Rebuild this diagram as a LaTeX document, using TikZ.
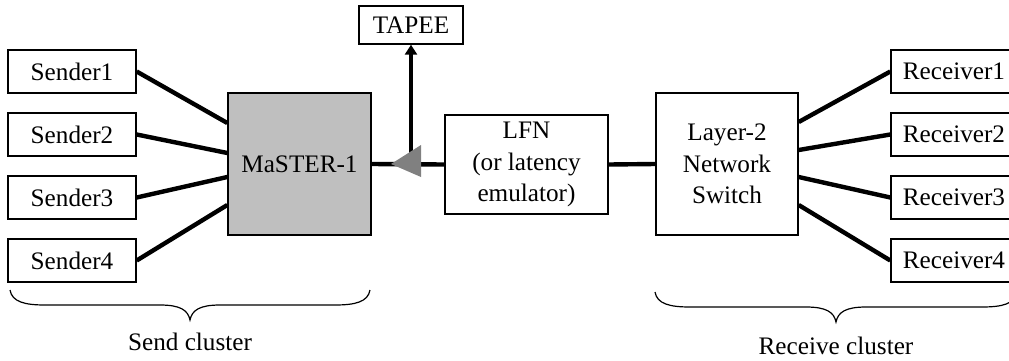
\documentclass[tikz,border=0pt]{standalone}
\usepackage{fontspec}
\setmainfont{Liberation Serif}
\usetikzlibrary{calc,arrows.meta}
\begin{document}
\begin{tikzpicture}[x=0.5pt,y=-0.5pt,
  box/.style={draw, line width=0.7pt, inner sep=0pt, font=\fontsize{12.6}{15.8}\selectfont, align=center},
  small/.style={box, minimum width=64pt, minimum height=21.5pt},
  rbox/.style={box, minimum width=63pt, minimum height=21.5pt},
  link/.style={line width=2.2pt},
  brace/.style={line width=0.6pt},
  lbl/.style={font=\fontsize{12.6}{15.8}\selectfont, inner sep=0pt}]
\useasboundingbox (0,0) rectangle (1009,360);
% senders
\node[small] (s1) at (72,71.5) {Sender1};
\node[small] (s2) at (72,134.5) {Sender2};
\node[small] (s3) at (72,197.5) {Sender3};
\node[small] (s4) at (72,260.5) {Sender4};
% master
\node[box, fill=gray!50, minimum width=71.5pt, minimum height=71pt] (m) at (299.5,164) {MaSTER-1};
% TAPEE
\node[box, minimum width=52pt, minimum height=19pt] (t) at (411,25) {TAPEE};
% LFN
\node[box, minimum width=81.5pt, minimum height=49.5pt] (lfn) at (526.5,164.5) {LFN\\(or latency\\emulator)};
% switch
\node[box, minimum width=71pt, minimum height=71pt] (sw) at (727,164) {Layer-2\\Network\\Switch};
% receivers
\node[rbox] (r1) at (954,71.5) {Receiver1};
\node[rbox] (r2) at (954,134.5) {Receiver2};
\node[rbox] (r3) at (954,197.5) {Receiver3};
\node[rbox] (r4) at (954,260.5) {Receiver4};
% sender links
\draw[link] (s1.east) -- ($(m.west)+(0,-41)$);
\draw[link] (s2.east) -- ($(m.west)+(0,-11)$);
\draw[link] (s3.east) -- ($(m.west)+(0,13)$);
\draw[link] (s4.east) -- ($(m.west)+(0,41)$);
% receiver links
\draw[link] ($(sw.east)+(0,-42)$) -- (r1.west);
\draw[link] ($(sw.east)+(0,-14)$) -- (r2.west);
\draw[link] ($(sw.east)+(0,13)$) -- (r3.west);
\draw[link] ($(sw.east)+(0,41)$) -- (r4.west);
% main line
\draw[link] (m.east) -- (lfn.west);
\draw[link] (lfn.east) -- (sw.west);
% tap
\coordinate (tap) at (411,164);
\draw[link, -{Triangle[length=5pt,width=6pt]}] (tap) -- (t.south);
\fill[gray] (391,164) -- (421,145) -- (421,177) -- cycle;
% braces
\draw[brace] (10,290) .. controls (12,302) and (25,305) .. (45,305) -- (160,305)
  .. controls (180,305) and (188,310) .. (190,320)
  .. controls (192,310) and (200,305) .. (220,305) -- (335,305)
  .. controls (355,305) and (368,302) .. (370,290);
\draw[brace] (655,292) .. controls (657,304) and (670,307) .. (690,307) -- (806,307)
  .. controls (826,307) and (834,312) .. (836,322)
  .. controls (838,312) and (846,307) .. (866,307) -- (982,307)
  .. controls (1002,307) and (1015,304) .. (1017,292);
\node[lbl] (sc) at (190,342) {Send cluster};
\node[lbl] (rc) at (836,346) {Receive cluster};
\end{tikzpicture}
\end{document}
